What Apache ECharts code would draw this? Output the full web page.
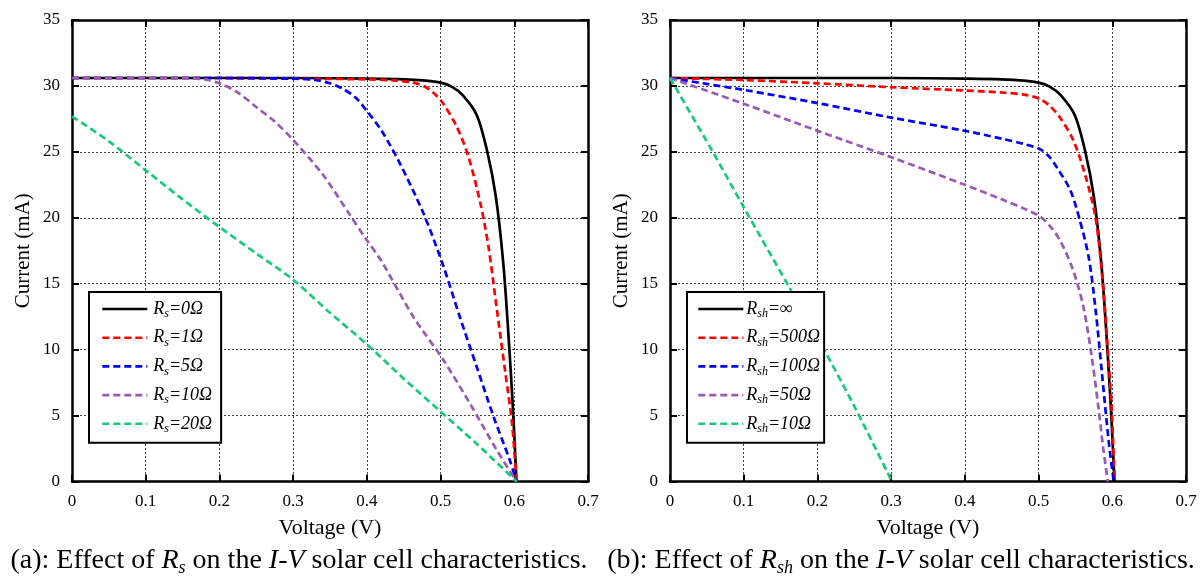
<!DOCTYPE html>
<html>
<head>
<meta charset="utf-8">
<script src="https://cdn.jsdelivr.net/npm/echarts@6/dist/echarts.min.js"></script>
<style>
html,body{margin:0;padding:0;background:#fff;}
#chart{width:1202px;height:580px;}
</style>
</head>
<body>
<div id="chart"></div>
<script>
// ---------- data ----------
const xTickLabels = ['0', '0.1', '0.2', '0.3', '0.4', '0.5', '0.6', '0.7'];
const yTickLabels = ['0', '5', '10', '15', '20', '25', '30', '35'];

// (a) series resistance
const rs0V = [0, 0.1, 0.2, 0.3, 0.4, 0.45, 0.48, 0.5, 0.515, 0.53, 0.549, 0.563, 0.575, 0.585, 0.592, 0.598, 0.603];
const rs0I = [30.6, 30.6, 30.6, 30.6, 30.55, 30.5, 30.4, 30.25, 29.95, 29.3, 27.8, 25.1, 21.6, 16.6, 11.2, 5.7, 0];
const rs1V = [0, 0.1, 0.2, 0.3, 0.4, 0.44, 0.463, 0.48, 0.49, 0.503, 0.522, 0.538, 0.554, 0.565, 0.576, 0.588, 0.597, 0.603];
const rs1I = [30.6, 30.6, 30.6, 30.55, 30.5, 30.4, 30.25, 29.9, 29.5, 28.7, 26.9, 24.6, 21.1, 17.8, 13.2, 8.2, 4.4, 0];
const rs5V = [0, 0.1, 0.2, 0.3, 0.33, 0.35, 0.367, 0.385, 0.4, 0.42, 0.445, 0.477, 0.504, 0.526, 0.549, 0.572, 0.594, 0.603];
const rs5I = [30.6, 30.6, 30.6, 30.55, 30.45, 30.2, 29.8, 29.1, 28.1, 26.6, 24.1, 20.3, 16.3, 12.5, 8.7, 4.9, 1.6, 0];
const rs10V = [0, 0.1, 0.15, 0.18, 0.2, 0.225, 0.25, 0.275, 0.3, 0.34, 0.376, 0.4, 0.42, 0.463, 0.504, 0.54, 0.576, 0.603];
const rs10I = [30.6, 30.6, 30.6, 30.5, 30.2, 29.5, 28.4, 27.3, 25.9, 23.3, 20.3, 18.3, 16.7, 12.5, 9.2, 5.9, 2.4, 0];
const rs20V = [0, 0.05, 0.1, 0.15, 0.2, 0.25, 0.3, 0.35, 0.4, 0.45, 0.5, 0.55, 0.603];
const rs20I = [27.7, 25.8, 23.6, 21.4, 19.3, 17.3, 15.3, 12.8, 10.4, 7.8, 5.3, 2.8, 0];

// (b) shunt resistance
const rshInfV = [0, 0.1, 0.2, 0.3, 0.4, 0.45, 0.48, 0.5, 0.515, 0.53, 0.549, 0.563, 0.575, 0.585, 0.592, 0.598, 0.603];
const rshInfI = [30.6, 30.6, 30.6, 30.6, 30.55, 30.5, 30.4, 30.25, 29.95, 29.3, 27.8, 25.1, 21.6, 16.6, 11.2, 5.7, 0];
const rsh500V = [0, 0.1, 0.2, 0.3, 0.4, 0.45, 0.484, 0.502, 0.515, 0.529, 0.547, 0.563, 0.577, 0.586, 0.593, 0.599, 0.603];
const rsh500I = [30.6, 30.45, 30.2, 29.9, 29.65, 29.5, 29.3, 29.0, 28.5, 27.6, 25.9, 23.3, 20.1, 15.8, 10.7, 5.7, 0];
const rsh100V = [0, 0.05, 0.1, 0.2, 0.3, 0.4, 0.45, 0.48, 0.502, 0.515, 0.525, 0.543, 0.556, 0.568, 0.577, 0.586, 0.595, 0.602];
const rsh100I = [30.6, 30.15, 29.7, 28.7, 27.6, 26.6, 26.0, 25.6, 25.2, 24.6, 23.8, 22.1, 19.8, 17.0, 13.2, 8.2, 3.1, 0];
const rsh50V = [0, 0.1, 0.2, 0.3, 0.4, 0.45, 0.48, 0.502, 0.515, 0.529, 0.547, 0.561, 0.572, 0.581, 0.588, 0.594];
const rsh50I = [30.6, 28.65, 26.6, 24.6, 22.5, 21.4, 20.7, 20.1, 19.4, 18.3, 16.0, 13.2, 9.5, 5.7, 2.4, 0];
const rsh10V = [0, 0.057, 0.1, 0.161, 0.208, 0.251, 0.301];
const rsh10I = [30.6, 25.1, 20.8, 14.8, 10.1, 5.6, 0];

const namesA = ['Rs=0Ω', 'Rs=1Ω', 'Rs=5Ω', 'Rs=10Ω', 'Rs=20Ω'];
const subsA = ['s', 's', 's', 's', 's'];
const restA = ['=0Ω', '=1Ω', '=5Ω', '=10Ω', '=20Ω'];
const namesB = ['Rsh=∞', 'Rsh=500Ω', 'Rsh=100Ω', 'Rsh=50Ω', 'Rsh=10Ω'];
const subsB = ['sh', 'sh', 'sh', 'sh', 'sh'];
const restB = ['=∞', '=500Ω', '=100Ω', '=50Ω', '=10Ω'];

const colors = ['#000000', '#ff0000', '#0000ff', '#9b59b6', '#17c97b'];
const captionA = ['(a): Effect of ', 'R', 's', ' on the ', 'I-V', ' solar cell characteristics.'];
const captionB = ['(b): Effect of ', 'R', 'sh', ' on the ', 'I-V', ' solar cell characteristics.'];

// ---------- chart ----------
const FONT = "'Liberation Serif', 'DejaVu Serif', serif";
const pairs = (v, i) => v.map((x, k) => [x, i[k]]);
const dataA = [pairs(rs0V, rs0I), pairs(rs1V, rs1I), pairs(rs5V, rs5I), pairs(rs10V, rs10I), pairs(rs20V, rs20I)];
const dataB = [pairs(rshInfV, rshInfI), pairs(rsh500V, rsh500I), pairs(rsh100V, rsh100I), pairs(rsh50V, rsh50I), pairs(rsh10V, rsh10I)];

const legendLabel = {};
namesA.forEach((n, k) => legendLabel[n] = '{r|R}{s|' + subsA[k] + '}{t|' + restA[k] + '}');
namesB.forEach((n, k) => legendLabel[n] = '{r|R}{s|' + subsB[k] + '}{t|' + restB[k] + '}');

const legendRich = {
  r: {fontFamily: FONT, fontStyle: 'italic', fontSize: 18, color: '#000', lineHeight: 22, verticalAlign: 'middle'},
  s: {fontFamily: FONT, fontStyle: 'italic', fontSize: 12, color: '#000', lineHeight: 12, verticalAlign: 'bottom'},
  t: {fontFamily: FONT, fontStyle: 'italic', fontSize: 18, color: '#000', lineHeight: 22, verticalAlign: 'middle'}
};
const capRich = {
  a: {fontFamily: FONT, fontSize: 28, color: '#000', lineHeight: 32, verticalAlign: 'middle'},
  i: {fontFamily: FONT, fontSize: 28, fontStyle: 'italic', color: '#000', lineHeight: 32, verticalAlign: 'middle'},
  s: {fontFamily: FONT, fontSize: 18, fontStyle: 'italic', color: '#000', lineHeight: 18, verticalAlign: 'bottom'}
};
function caption(c) {
  return '{a|' + c[0] + '}{i|' + c[1] + '}{s|' + c[2] + '}{a|' + c[3] + '}{i|' + c[4] + '}{a|' + c[5] + '}';
}

const gridTop = 20, gridH = 461.5, gridW = 516;
const grids = [
  {left: 72, top: gridTop, width: gridW, height: gridH},
  {left: 670, top: gridTop, width: gridW, height: gridH}
];

function xAxes(gi) {
  return [
    {
      type: 'value', gridIndex: gi, position: 'bottom', min: 0, max: 0.7, interval: 0.1,
      name: 'Voltage (V)', nameLocation: 'middle', nameGap: 36,
      nameTextStyle: {fontFamily: FONT, fontSize: 22, color: '#000'},
      axisLine: {show: true, onZero: false, lineStyle: {color: '#000', width: 2.5}},
      axisTick: {show: true, inside: true, length: 7, lineStyle: {color: '#000', width: 2}},
      axisLabel: {fontFamily: FONT, fontSize: 17, color: '#000', margin: 12,
        formatter: v => xTickLabels[Math.round(v * 10)]},
      splitLine: {show: true, lineStyle: {color: '#444', width: 1, type: [2, 2]}}
    },
    {
      type: 'value', gridIndex: gi, position: 'top', min: 0, max: 0.7, interval: 0.1,
      axisLine: {show: true, onZero: false, lineStyle: {color: '#000', width: 2.5}},
      axisTick: {show: true, inside: true, length: 7, lineStyle: {color: '#000', width: 2}},
      axisLabel: {show: false}, splitLine: {show: false}
    }
  ];
}
function yAxes(gi) {
  return [
    {
      type: 'value', gridIndex: gi, position: 'left', min: 0, max: 35, interval: 5,
      name: 'Current (mA)', nameLocation: 'middle', nameGap: 38,
      nameTextStyle: {fontFamily: FONT, fontSize: 21, color: '#000'},
      axisLine: {show: true, onZero: false, lineStyle: {color: '#000', width: 2.5}},
      axisTick: {show: true, inside: true, length: 7, lineStyle: {color: '#000', width: 2}},
      axisLabel: {fontFamily: FONT, fontSize: 17, color: '#000', margin: 12,
        formatter: v => yTickLabels[Math.round(v / 5)]},
      splitLine: {show: true, lineStyle: {color: '#444', width: 1, type: [2, 2]}}
    },
    {
      type: 'value', gridIndex: gi, position: 'right', min: 0, max: 35, interval: 5,
      axisLine: {show: true, onZero: false, lineStyle: {color: '#000', width: 2.5}},
      axisTick: {show: true, inside: true, length: 7, lineStyle: {color: '#000', width: 2}},
      axisLabel: {show: false}, splitLine: {show: false}
    }
  ];
}

const series = [];
[[namesA, dataA, 0], [namesB, dataB, 2]].forEach(([names, data, ai]) => {
  names.forEach((n, k) => {
    series.push({
      type: 'line', name: n, xAxisIndex: ai, yAxisIndex: ai,
      data: data[k], symbol: 'none', showSymbol: false, smooth: 0.3,
      clip: true, z: 3,
      lineStyle: {color: colors[k], width: 2.7, type: k === 0 ? 'solid' : [7, 4]},
      itemStyle: {color: colors[k]}
    });
  });
});

function legend(names, left, pad, textPad) {
  return {
    data: names, orient: 'vertical', left: left, top: 292,
    backgroundColor: '#fff', borderColor: '#000', borderWidth: 2, borderRadius: 0,
    padding: pad, itemGap: 8.7, itemWidth: 45, itemHeight: 14,
    selectedMode: false, z: 10,
    itemStyle: {opacity: 0},
    lineStyle: {width: 2.6},
    formatter: n => legendLabel[n],
    textStyle: {fontFamily: FONT, fontSize: 18, color: '#000', rich: legendRich, padding: textPad}
  };
}

const option = {
  backgroundColor: '#fff',
  animation: false,
  grid: grids,
  xAxis: [...xAxes(0), ...xAxes(1)],
  yAxis: [...yAxes(0), ...yAxes(1)],
  legend: [legend(namesA, 89, [8, 9, 8, 12], [0, 0, 0, 1]), legend(namesB, 687, [8, 4, 8, 10], [0, 0, 0, -2])],
  title: [
    {text: caption(captionA), left: 299, top: 545, textAlign: 'center', padding: 0,
      textStyle: {rich: capRich, fontFamily: FONT, fontSize: 28, fontWeight: 'normal'}},
    {text: caption(captionB), left: 901, top: 545, textAlign: 'center', padding: 0,
      textStyle: {rich: capRich, fontFamily: FONT, fontSize: 28, fontWeight: 'normal'}}
  ],
  series: series
};

const chart = echarts.init(document.getElementById('chart'), null, {renderer: 'canvas'});
chart.setOption(option);
</script>
</body>
</html>
